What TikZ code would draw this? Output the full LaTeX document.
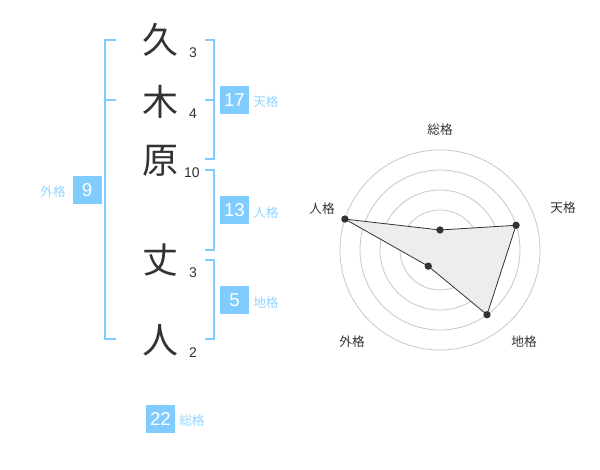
\documentclass[tikz,border=0pt]{standalone}
\usepackage{fontspec}
\setmainfont{Liberation Sans}
\newfontfamily\jp{Noto Sans CJK JP}
\definecolor{kakublue}{HTML}{80CCFF}
\definecolor{inkgray}{HTML}{333333}

\tikzset{
  kanji/.style={font=\jp\fontsize{27}{27}\selectfont, text=inkgray, inner sep=0pt},
  strokes/.style={font=\fontsize{10.5}{10.5}\selectfont, text=inkgray, inner sep=0pt},
  kakubox/.style={fill=kakublue, text=white, font=\fontsize{14}{14}\selectfont,
    minimum width=21.75pt, minimum height=21pt, inner sep=0pt},
  kakulabel/.style={font=\jp\fontsize{9.5}{9.5}\selectfont, text=kakublue!85, inner sep=0pt},
  bracket/.style={draw=kakublue, line width=1.5pt},
  axislabel/.style={font=\jp\fontsize{9.5}{9.5}\selectfont, text=inkgray, inner sep=0pt},
  ring/.style={draw=black!22, line width=0.6pt},
  dot/.style={circle, fill=inkgray, inner sep=0pt, minimum size=5.5pt},
}

\begin{document}
\begin{tikzpicture}[x=0.75pt,y=-0.75pt]
  \useasboundingbox (0,0) rectangle (600,470);

  % name
  \node[kanji] (k1) at (160,40) {久};
  \node[kanji] (k2) at (160,102) {木};
  \node[kanji] (k3) at (160,161) {原};
  \node[kanji] (k4) at (160,260) {丈};
  \node[kanji] (k5) at (160,340) {人};
  \node[strokes] (s1) at (193,53) {3};
  \node[strokes] (s2) at (193,114) {4};
  \node[strokes] (s3) at (192,173) {10};
  \node[strokes] (s4) at (193,273) {3};
  \node[strokes] (s5) at (193,353) {2};

  % brackets
  \draw[bracket] (116,40) -- (105,40) -- (105,339) -- (116,339);
  \draw[bracket] (105,100) -- (116,100);
  \draw[bracket] (205,40) -- (214,40) -- (214,159) -- (205,159);
  \draw[bracket] (205,100) -- (214,100);
  \draw[bracket] (205,170) -- (214,170) -- (214,250) -- (205,250);
  \draw[bracket] (205,260) -- (214,260) -- (214,339) -- (205,339);

  % totals
  \node[kakubox] (ten) at (234.5,100) {17};
  \node[kakulabel, anchor=west] (tenlabel) at (253,102) {天格};
  \node[kakubox] (jin) at (234.5,210.5) {13};
  \node[kakulabel, anchor=west] (jinlabel) at (253,213) {人格};
  \node[kakubox] (chi) at (234.5,300) {5};
  \node[kakulabel, anchor=west] (chilabel) at (253,303) {地格};
  \node[kakubox] (gai) at (87,190) {9};
  \node[kakulabel, anchor=east] (gailabel) at (66,192) {外格};
  \node[kakubox] (sou) at (160.5,419) {22};
  \node[kakulabel, anchor=west] (soulabel) at (179,421) {総格};

  % radar
  \begin{scope}[shift={(440,250)}]
    \foreach \r in {20,40,...,100}
      \draw[ring] (0,0) circle[radius=\r];
    \node[circle, fill=black!20, inner sep=0pt, minimum size=5.5pt] (c) at (0,0) {};
    \foreach \p/\t/\n in {{(0,-120)}/総格/sou, {(123,-42)}/天格/ten, {(84,92)}/地格/chi,
                          {(-88,92)}/外格/gai, {(-118,-41)}/人格/jin}
      \node[axislabel] (l-\n) at \p {\t};
    \foreach \a/\r/\n in {-90/20/sou, -18/80/ten, 54/80/chi, 126/20/gai, -162/100/jin}
      \coordinate (p-\n) at (\a:\r);
    \filldraw[fill=black!7, draw=inkgray, line width=0.6pt]
      (p-sou) -- (p-ten) -- (p-chi) -- (p-gai) -- (p-jin) -- cycle;
    \foreach \n in {sou,ten,chi,gai,jin}
      \node[dot] (d-\n) at (p-\n) {};
  \end{scope}
\end{tikzpicture}
\end{document}
